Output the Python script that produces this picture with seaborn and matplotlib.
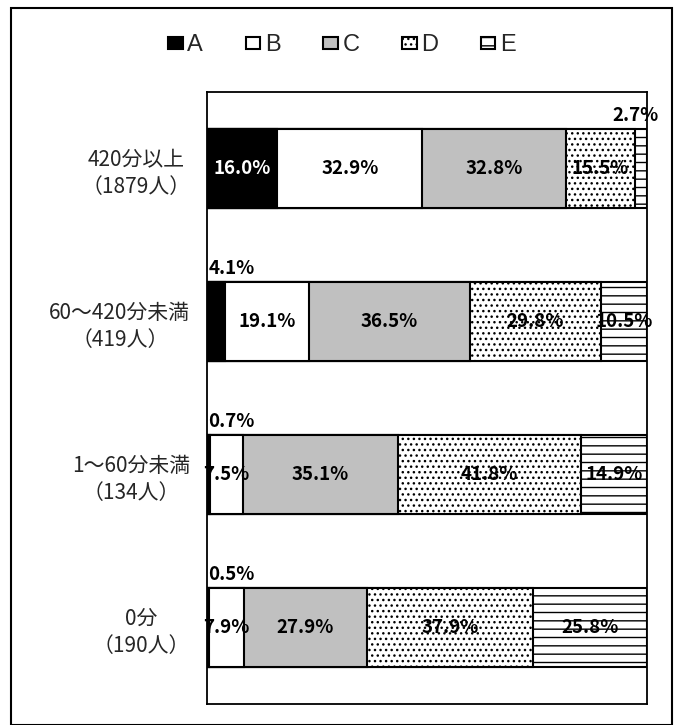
import numpy as np
import pandas as pd
import matplotlib
matplotlib.use("Agg")
import matplotlib.pyplot as plt
from matplotlib.patches import Patch, Rectangle
import seaborn as sns

sns.set_style("white")
plt.rcParams['font.family'] = ['Noto Sans CJK JP', 'DejaVu Sans']
plt.rcParams['hatch.linewidth'] = 1.0

# Data
groups = ['420分以上\n（1879人）', '60～420分未満\n（419人）', '1～60分未満\n（134人）', '0分\n（190人）']
series_names = ['A', 'B', 'C', 'D', 'E']
val_a = [16.0, 4.1, 0.7, 0.5]
val_b = [32.9, 19.1, 7.5, 7.9]
val_c = [32.8, 36.5, 35.1, 27.9]
val_d = [15.5, 29.8, 41.8, 37.9]
val_e = [2.7, 10.5, 14.9, 25.8]

face_colors = ['black', 'white', '#c0c0c0', 'white', 'white']
hatches = [None, None, None, '...', '--']

df = pd.DataFrame({'group': groups, 'A': val_a, 'B': val_b, 'C': val_c, 'D': val_d, 'E': val_e})
cum = df[series_names].cumsum(axis=1)

fig = plt.figure(figsize=(6.75, 7.25), dpi=100)
ax = fig.add_axes([207 / 675, 21 / 725, 440 / 675, 612 / 725])

# stacked bars: draw cumulative totals from the largest down
for i in range(len(series_names) - 1, -1, -1):
    name = series_names[i]
    sns.barplot(x=cum[name], y=df['group'], orient='h', ax=ax, width=0.51,
                color=face_colors[i], edgecolor='black', linewidth=1.5,
                hatch=hatches[i], saturation=1)

ax.set_xlim(0, 100)
ax.set_xlabel('')
ax.set_ylabel('')
ax.set_xticks([])
ax.tick_params(axis='y', length=0, pad=12)
for lab in ax.get_yticklabels():
    lab.set_fontsize(15)
    lab.set_multialignment('center')
    lab.set_linespacing(1.3)
for sp in ax.spines.values():
    sp.set_color('black')
    sp.set_linewidth(1.3)

# value labels
half = 0.255
for r in range(len(groups)):
    left = 0.0
    for i, name in enumerate(series_names):
        v = df.loc[r, name]
        txt = f'{v:.1f}%'
        mid = left + v / 2
        if v < 5 and i == 0:
            ax.text(0.3, r - half - 0.03, txt, ha='left', va='bottom',
                    fontsize=13.5, fontweight='bold', color='black', clip_on=False)
        elif v < 5:
            ax.text(mid - 1.2, r - half - 0.03, txt, ha='center', va='bottom',
                    fontsize=13.5, fontweight='bold', color='black', clip_on=False)
        else:
            col = 'white' if i == 0 else 'black'
            ax.text(mid, r, txt, ha='center', va='center',
                    fontsize=13.5, fontweight='bold', color=col, clip_on=False)
        left += v

# legend
handles = [Patch(facecolor=face_colors[i], edgecolor='black', hatch=hatches[i], linewidth=1.5)
           for i in range(len(series_names))]
fig.legend(handles, series_names, loc='center', bbox_to_anchor=(342 / 675, 1 - 45 / 725),
           ncol=5, frameon=False, handlelength=0.62, handleheight=0.4, handletextpad=0.2,
           columnspacing=1.8, prop={'family': 'Liberation Sans', 'size': 17})

# outer border
fig.patches.append(Rectangle((11 / 675, 0.0), (672 - 11) / 675, 1 - 8 / 725,
                             transform=fig.transFigure, fill=False,
                             edgecolor='black', linewidth=1.5, zorder=0))

fig.savefig('out.png', dpi=100)
